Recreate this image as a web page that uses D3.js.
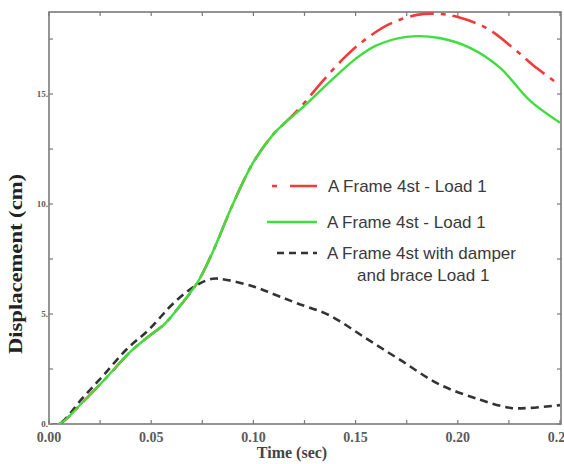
<!DOCTYPE html>
<html><head><meta charset="utf-8">
<script src="https://cdn.jsdelivr.net/npm/d3@7"></script>
<style>html,body{margin:0;padding:0;background:#fff;}svg{display:block;}</style>
</head><body>
<svg id="c" width="564" height="464"></svg>
<script>
// ---- data ----
const seriesNames = ["A Frame 4st - Load 1", "A Frame 4st - Load 1", "A Frame 4st with damper|and brace Load 1"];
const redTime  = [0,0.005,0.0166,0.028,0.04,0.049,0.056,0.0626,0.0724,0.08,0.09,0.1,0.11,0.1155,0.123,0.134,0.145,0.155,0.167,0.18,0.19,0.2,0.214,0.227,0.237,0.25];
const redDisp  = [0,0,1.0,2.1,3.3,4.0,4.5,5.2,6.4,7.8,10.0,11.9,13.2,13.7,14.4,15.6,16.7,17.5,18.2,18.6,18.65,18.5,18.0,17.1,16.3,15.4];
const greenTime = [0,0.005,0.0166,0.028,0.04,0.049,0.056,0.0626,0.0724,0.08,0.09,0.1,0.11,0.1155,0.123,0.139,0.15,0.16,0.175,0.191,0.206,0.2206,0.2353,0.25];
const greenDisp = [0,0,1.0,2.1,3.3,4.0,4.5,5.2,6.4,7.8,10.0,11.9,13.2,13.7,14.3,15.7,16.6,17.2,17.6,17.55,17.1,16.2,14.7,13.7];
const blackTime = [0,0.005,0.0166,0.0265,0.038,0.049,0.061,0.072,0.08,0.087,0.1,0.11,0.121,0.137,0.155,0.172,0.191,0.211,0.226,0.235,0.25];
const blackDisp = [0,0,1.2,2.2,3.4,4.3,5.5,6.3,6.6,6.55,6.25,5.9,5.5,4.95,3.9,2.9,1.8,1.1,0.73,0.73,0.86];
const xTicks = [0,0.05,0.1,0.15,0.2,0.25];
const xTickLabels = ["0.00","0.05","0.10","0.15","0.20","0.25"];
const xMinor = [0.025,0.075,0.125,0.175,0.225];
const yTicks = [0,5,10,15];
const yTickLabels = ["0.","5.","10.","15."];
const yMinor = [2.5,7.5,12.5,17.5];

// ---- layout ----
const svg = d3.select("#c");
const L = 49, R = 561, T = 12, B = 424;
const x = d3.scaleLinear().domain([0,0.25]).range([L,560]);
const y = d3.scaleLinear().domain([0,18.73]).range([B,T]);
const axisCol = "#7a7a7a", labCol = "#5a5a5a";

// frame
svg.append("rect").attr("x",L).attr("y",T).attr("width",R-L).attr("height",B-T)
  .attr("fill","none").attr("stroke",axisCol).attr("stroke-width",1.6);

// ticks
const tk = svg.append("g").attr("stroke",axisCol).attr("stroke-width",1.2);
xTicks.concat(xMinor).forEach(v=>{
  tk.append("line").attr("x1",x(v)).attr("x2",x(v)).attr("y1",B).attr("y2",B-4);
  tk.append("line").attr("x1",x(v)).attr("x2",x(v)).attr("y1",T).attr("y2",T+4);
});
yTicks.concat(yMinor).forEach(v=>{
  tk.append("line").attr("x1",L).attr("x2",L+4).attr("y1",y(v)).attr("y2",y(v));
  tk.append("line").attr("x1",R).attr("x2",R-4).attr("y1",y(v)).attr("y2",y(v));
});

// tick labels
svg.append("g").selectAll("text").data(xTicks).join("text")
  .attr("x",d=>x(d)).attr("y",442).attr("text-anchor","middle")
  .attr("font-family","Liberation Serif, serif").attr("font-weight","bold")
  .attr("font-size",14).attr("fill",labCol).text((d,i)=>xTickLabels[i]);
svg.append("g").selectAll("text").data(yTicks).join("text")
  .attr("x",48).attr("y",d=>y(d)+3).attr("text-anchor","end")
  .attr("font-family","Liberation Serif, serif").attr("font-weight","bold")
  .attr("font-size",9).attr("fill",labCol).text((d,i)=>yTickLabels[i]);

// axis titles
svg.append("text").attr("x",292).attr("y",458).attr("text-anchor","middle")
  .attr("font-family","Liberation Serif, serif").attr("font-weight","bold")
  .attr("font-size",16).attr("fill","#444").text("Time (sec)");
svg.append("text").attr("transform","translate(22,264) rotate(-90)").attr("text-anchor","middle")
  .attr("font-family","Liberation Serif, serif").attr("font-weight","bold")
  .attr("font-size",19).attr("fill","#222")
  .attr("textLength",180).attr("lengthAdjust","spacingAndGlyphs").text("Displacement (cm)");

// curves
const line = d3.line().x(d=>x(d[0])).y(d=>y(d[1])).curve(d3.curveCatmullRom.alpha(0.5));
const zip = (a,b)=>a.map((t,i)=>[t,b[i]]);
const styles = [
  {data: zip(blackTime,blackDisp), color:"#333", w:2.6, dash:"8,5"},
  {data: zip(redTime,redDisp), color:"#f23a3a", w:2.6, dash:"24,7,5,7"},
  {data: zip(greenTime,greenDisp), color:"#3ede3e", w:2.4, dash:null},
];
const plot = svg.append("g");
plot.append("clipPath").attr("id","cp").append("rect").attr("x",L).attr("y",T-2).attr("width",R-L).attr("height",B-T+2);
[styles[1], styles[0], styles[2]].forEach(s=>{
  plot.append("path").attr("d",line(s.data)).attr("fill","none")
    .attr("stroke",s.color).attr("stroke-width",s.w)
    .attr("stroke-dasharray",s.dash).attr("clip-path","url(#cp)");
});

// legend
const lg = svg.append("g").attr("font-family","Liberation Sans, Arial, sans-serif")
  .attr("font-size",17).attr("fill","#3a3a3a");
lg.append("line").attr("x1",272).attr("x2",317).attr("y1",186).attr("y2",186)
  .attr("stroke","#f23a3a").attr("stroke-width",2.6).attr("stroke-dasharray","5,13,27");
lg.append("text").attr("x",328).attr("y",192).text(seriesNames[0]);
lg.append("line").attr("x1",267).attr("x2",317).attr("y1",222).attr("y2",222)
  .attr("stroke","#3ede3e").attr("stroke-width",2.6);
lg.append("text").attr("x",327).attr("y",228).text(seriesNames[1]);
lg.append("line").attr("x1",277).attr("x2",317).attr("y1",253).attr("y2",253)
  .attr("stroke","#333").attr("stroke-width",2.6).attr("stroke-dasharray","7,5");
const parts = seriesNames[2].split("|");
lg.append("text").attr("x",327).attr("y",259).text(parts[0]);
lg.append("text").attr("x",357).attr("y",281).text(parts[1]);
</script>
</body></html>
